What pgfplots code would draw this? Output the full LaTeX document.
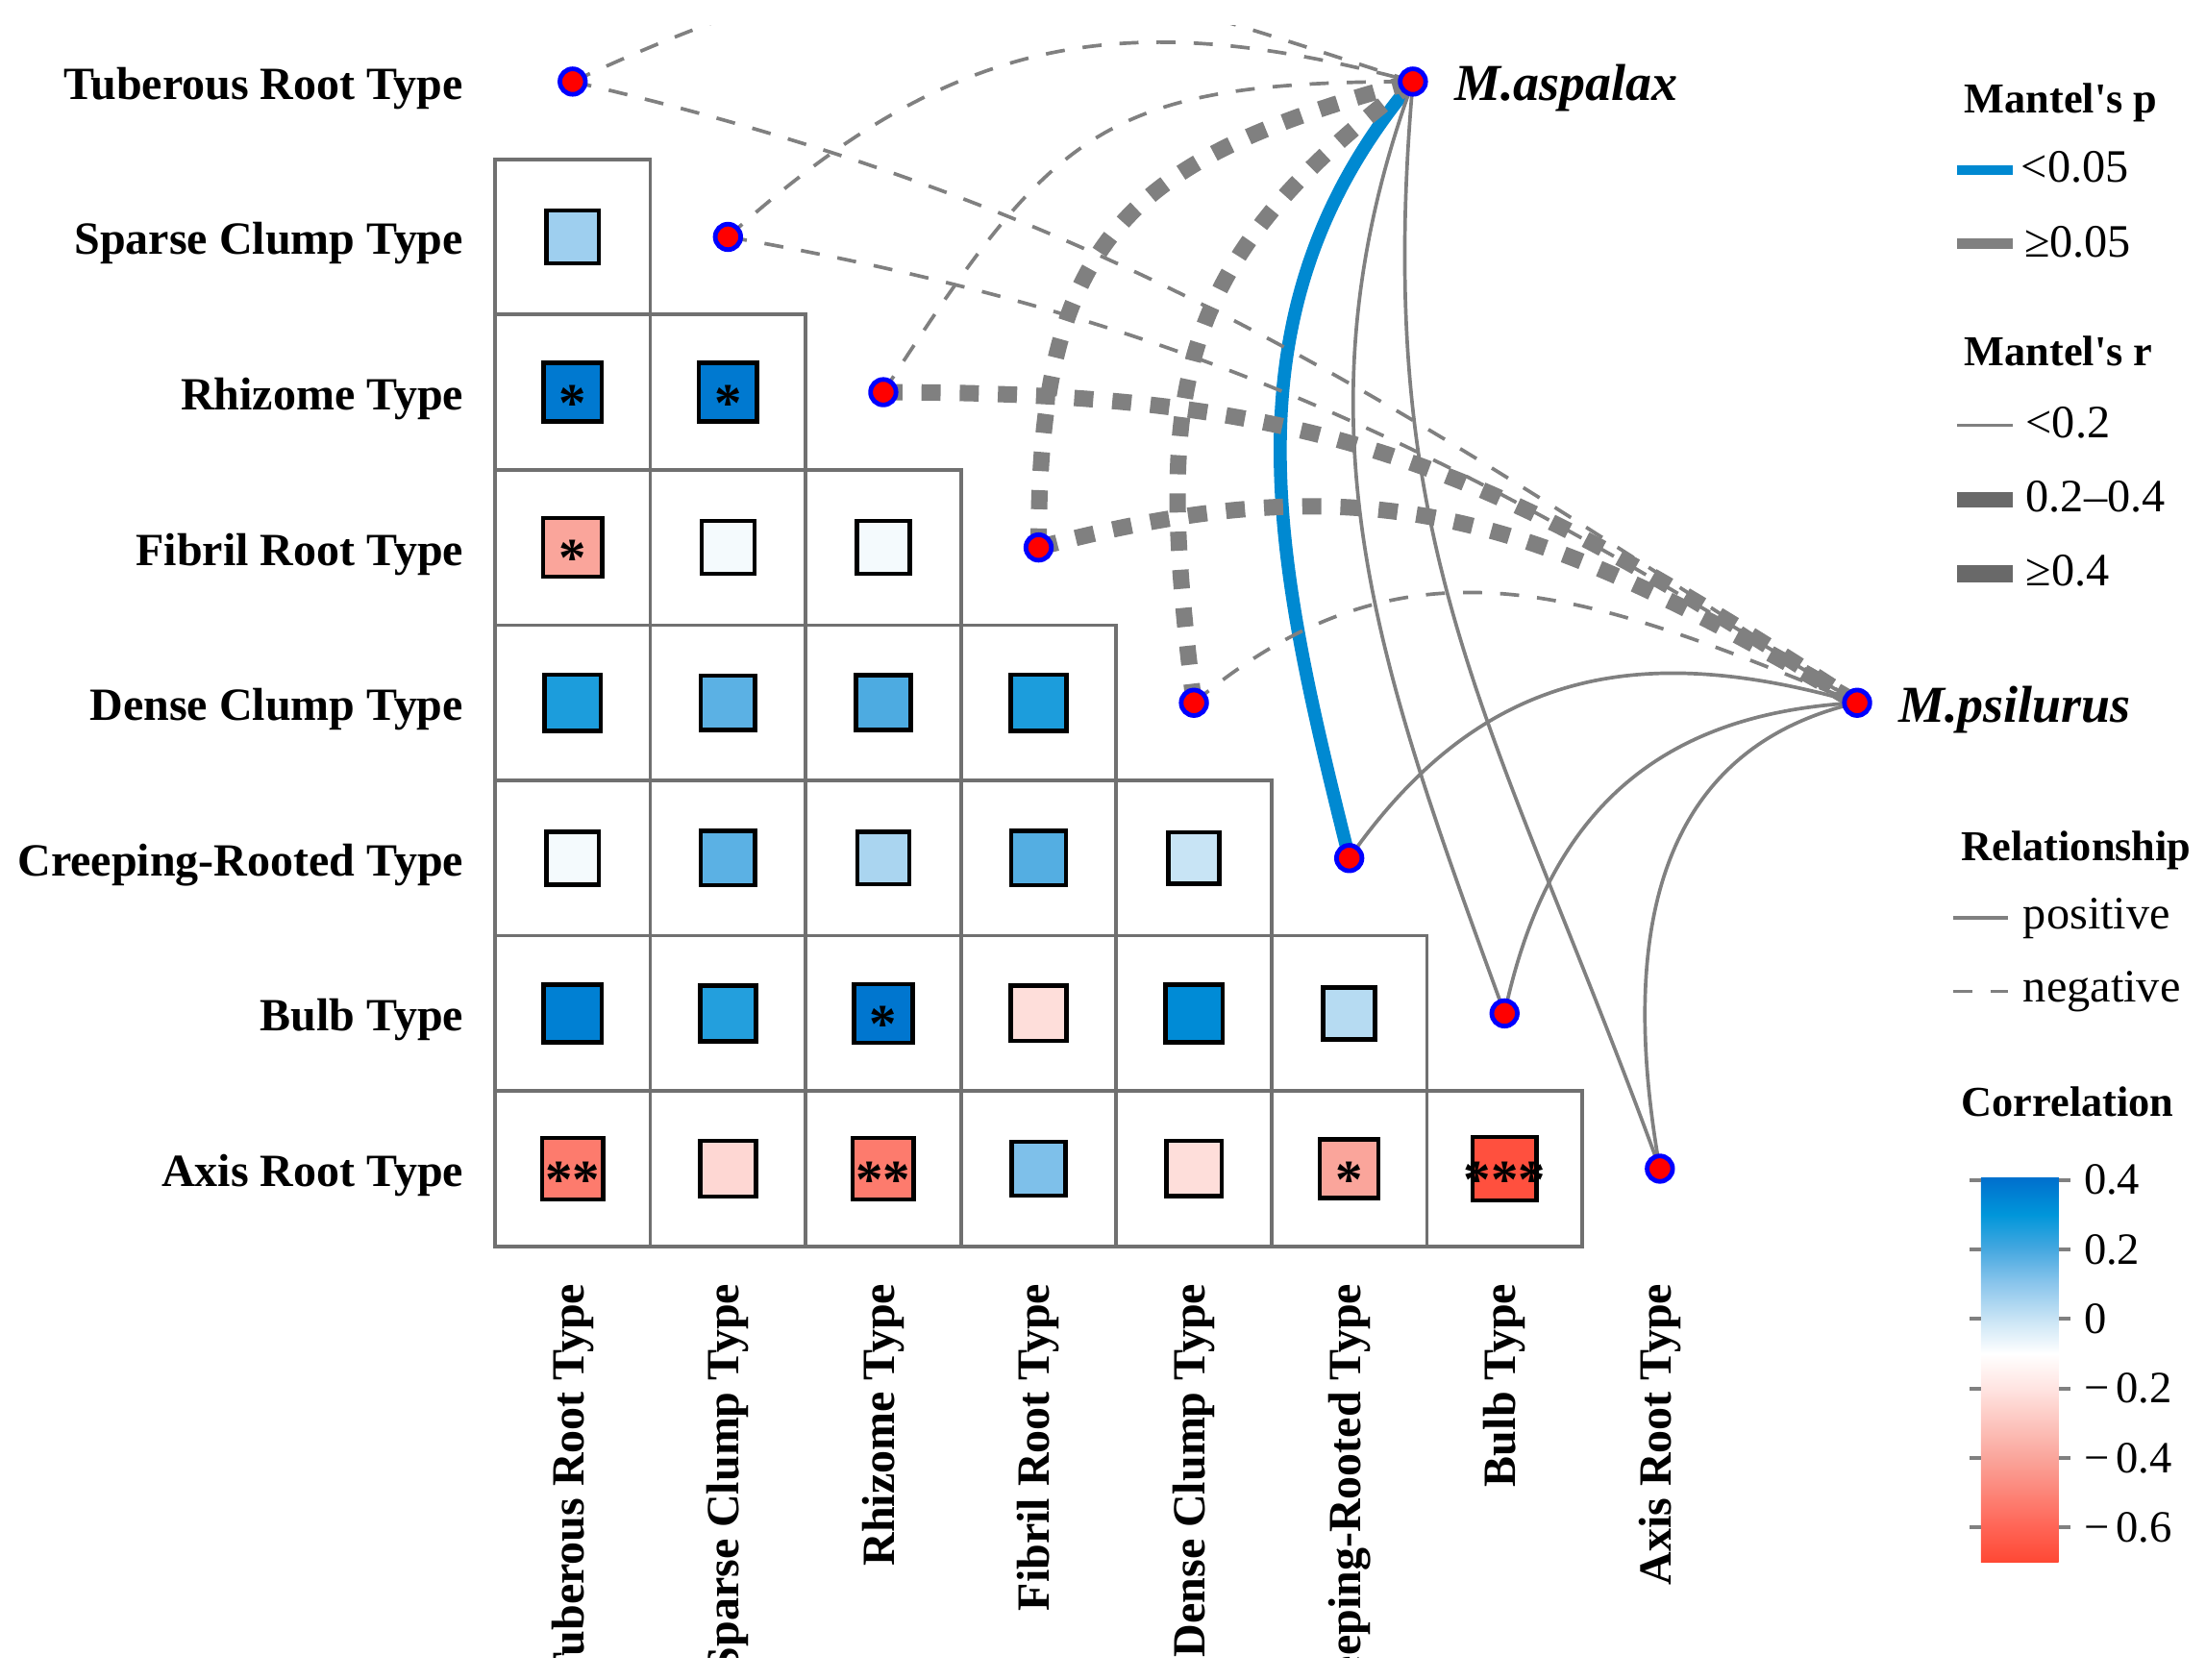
\documentclass[border=0pt]{standalone}
\usepackage{fontspec}
\setmainfont{Liberation Serif}
\usepackage{pgfplots}
\usepackage{pgfplotstable}
\pgfplotsset{compat=1.18}

\definecolor{linkgray}{RGB}{128,128,128}
\definecolor{keygray}{RGB}{105,105,105}
\definecolor{gridgray}{RGB}{112,112,112}
\definecolor{sigblue}{RGB}{0,137,209}

% correlation colours: positions are (r+0.70)*10 cm
\pgfplotsset{colormap={corr}{rgb255(0cm)=(255,72,52); rgb255(1cm)=(255,100,85);
  rgb255(3cm)=(250,165,155); rgb255(5cm)=(255,228,225); rgb255(6cm)=(255,255,255);
  rgb255(7cm)=(200,228,245); rgb255(8cm)=(140,198,236); rgb255(9cm)=(70,168,224);
  rgb255(10cm)=(0,150,218); rgb255(11cm)=(0,114,206); rgb255(11.1cm)=(0,114,206)}}

\newcommand{\labfont}{\fontsize{8.45}{9}\selectfont\bfseries}
\newcommand{\spfont}{\fontsize{9.5}{10}\selectfont\bfseries\itshape}
\newcommand{\ttlfont}{\fontsize{7.8}{9}\selectfont\bfseries}
\newcommand{\keyfont}{\fontsize{8.5}{9}\selectfont}
\newcommand{\cbfont}{\fontsize{8.2}{9}\selectfont}
\newcommand{\starfont}{\fontsize{10}{10}\selectfont\bfseries}

% lower triangle: column x, row y (7 = Tuberous ... 0 = Axis), correlation r
\pgfplotstableread{
x y r
0 6 0.07
0 5 0.38
1 5 0.38
0 4 -0.40
1 4 -0.08
2 4 -0.08
0 3 0.26
1 3 0.17
2 3 0.19
3 3 0.26
0 2 -0.08
1 2 0.17
2 2 0.05
3 2 0.18
4 2 0.00
0 1 0.36
1 1 0.25
2 1 0.39
3 1 -0.22
4 1 0.33
5 1 0.03
0 0 -0.53
1 0 -0.24
2 0 -0.53
3 0 0.12
4 0 -0.22
5 0 -0.40
6 0 -0.67
}\corr

\pgfplotstableread{
x y sig
0 5 *
1 5 *
0 4 *
2 1 *
0 0 **
2 0 **
5 0 *
6 0 ***
}\stars

% trait nodes on the diagonal, then M.aspalax and M.psilurus
\pgfplotstableread{
x y
0 7
1 6
2 5
3 4
4 3
5 2
6 1
7 0
5.41 7
8.27 3
}\nodes

\tikzset{
  lk/.style={linkgray, line width=0.65pt},
  lkd/.style={lk, dash pattern=on 3.5pt off 3.3pt},
  lkt/.style={linkgray, line width=3pt, dash pattern=on 3.5pt off 3.5pt},
  lkb/.style={sigblue, line width=2.4pt},
}
% \lk{style}{from}{out}{in}{to}{looseness}
\newcommand{\lk}[6]{\draw[#1] (axis cs:#2) to[out=#3,in=#4,looseness=#6] (axis cs:#5);}

\begin{document}
\begin{tikzpicture}
\begin{scope}
\clip (-3.187,-2.649) rectangle (11.016,7.86);
\begin{axis}[
  scale only axis, width=8cm, height=8cm,
  xmin=-0.5, xmax=7.5, ymin=-0.5, ymax=7.5,
  clip=false,
  axis line style={draw=none}, tick style={draw=none},
  xtick={0,...,7}, ytick={0,...,7},
  xticklabels={Tuberous Root Type, Sparse Clump Type, Rhizome Type, Fibril Root Type,
    Dense Clump Type, Creeping-Rooted Type, Bulb Type, Axis Root Type},
  yticklabels={Axis Root Type, Bulb Type, Creeping-Rooted Type, Dense Clump Type,
    Fibril Root Type, Rhizome Type, Sparse Clump Type, Tuberous Root Type},
  ticklabel style={font=\labfont, inner sep=0pt},
  xticklabel style={yshift=-0.235cm, rotate=90, anchor=east},
  yticklabel style={xshift=-0.197cm, yshift=-0.114cm, anchor=base east},
  colormap name=corr, point meta min=-0.70, point meta max=0.41,
  colorbar,
  colorbar style={
    at={(parent axis.south west)}, anchor=south west,
    xshift=9.267cm, yshift=-2.034cm,
    width=0.503cm, height=2.484cm,
    axis line style={draw=none},
    ytick={-0.6,-0.4,-0.2,0,0.2,0.4},
    yticklabels={−\kern.15em0.6, −\kern.15em0.4, −\kern.15em0.2, 0, 0.2, 0.4},
    tick align=outside, major tick length=0.073cm,
    ytick style={draw=linkgray, line width=0.7pt},
    yticklabel style={font=\cbfont, inner sep=0pt, xshift=0.08cm},
  },
]
% grid of the lower triangle
\addplot[only marks, mark=square, mark size=0.5cm,
  mark options={draw=gridgray, line width=0.65pt}] table[x=x, y=y] {\corr};
% coloured squares
\addplot[scatter, only marks, mark=square*, point meta=explicit,
  scatter/use mapped color={draw=black, fill=mapped color},
  mark options={line width=0.8pt},
  visualization depends on={abs(\thisrow{r}) \as \absr},
  scatter/@pre marker code/.append style={/tikz/mark size=0.165cm+0.06cm*\absr}]
  table[x=x, y=y, meta=r] {\corr};
% significance stars
\addplot[only marks, mark=none, point meta=explicit symbolic,
  nodes near coords, nodes near coords align={center},
  every node near coord/.append style={font=\starfont, inner sep=0pt, yshift=-2pt}]
  table[x=x, y=y, meta=sig] {\stars};
% nodes
\addplot[only marks, mark=*, mark size=0.082cm,
  mark options={fill=red, draw=blue, line width=0.85pt}] table[x=x, y=y] {\nodes};

% Mantel links
\lk{lkb}{5,2}{104}{230}{5.41,7}{1}
\lk{lkt}{3,4}{90}{195}{5.41,7}{1.3}
\lk{lkt}{4,3}{97}{217}{5.41,7}{1.2}
\lk{lkt}{2,5}{0}{147}{8.27,3}{1.1}
\lk{lkt}{3,4}{15}{150}{8.27,3}{1.1}
\lk{lkd}{0,7}{25}{162}{5.41,7}{1.2}
\lk{lkd}{1,6}{42}{165}{5.41,7}{1.1}
\lk{lkd}{2,5}{57}{180}{5.41,7}{1.3}
\lk{lkd}{0,7}{-13}{147}{8.27,3}{1}
\lk{lkd}{1,6}{-10}{148}{8.27,3}{1}
\lk{lkd}{4,3}{40}{158}{8.27,3}{1.1}
\lk{lk}{6,1}{110}{250}{5.41,7}{1}
\lk{lk}{7,0}{110}{265}{5.41,7}{1.1}
\lk{lk}{5,2}{55}{164}{8.27,3}{1.1}
\lk{lk}{6,1}{78}{183}{8.27,3}{1.1}
\lk{lk}{7,0}{100}{193}{8.27,3}{1.1}

\node[anchor=base west, font=\spfont, inner sep=0pt] at (axis cs:5.67,6.876) {M.aspalax};
\node[anchor=base west, font=\spfont, inner sep=0pt] at (axis cs:8.53,2.876) {M.psilurus};

% legends
\node[anchor=base west, font=\ttlfont, inner sep=0pt] at (axis cs:8.955,6.80) {Mantel\textquotesingle s p};
\draw[sigblue, line width=1.8pt] (axis cs:8.913,6.43) -- (axis cs:9.275,6.43);
\node[anchor=base west, font=\keyfont, inner sep=0pt] at (axis cs:9.32,6.35) {<0.05};
\draw[linkgray, line width=2pt] (axis cs:8.913,5.955) -- (axis cs:9.275,5.955);
\node[anchor=base west, font=\keyfont, inner sep=0pt] at (axis cs:9.34,5.87) {≥0.05};

\node[anchor=base west, font=\ttlfont, inner sep=0pt] at (axis cs:8.955,5.17) {Mantel\textquotesingle s r};
\draw[linkgray, line width=0.6pt] (axis cs:8.913,4.788) -- (axis cs:9.275,4.788);
\node[anchor=base west, font=\keyfont, inner sep=0pt] at (axis cs:9.35,4.705) {<0.2};
\draw[keygray, line width=2.7pt] (axis cs:8.913,4.307) -- (axis cs:9.275,4.307);
\node[anchor=base west, font=\keyfont, inner sep=0pt] at (axis cs:9.35,4.228) {0.2--0.4};
\draw[keygray, line width=3.3pt] (axis cs:8.913,3.83) -- (axis cs:9.275,3.83);
\node[anchor=base west, font=\keyfont, inner sep=0pt] at (axis cs:9.35,3.753) {≥0.4};

\node[anchor=base west, font=\ttlfont, inner sep=0pt] at (axis cs:8.936,1.985) {Relationship};
\draw[lk] (axis cs:8.889,1.613) -- (axis cs:9.243,1.613);
\node[anchor=base west, font=\keyfont, inner sep=0pt] at (axis cs:9.333,1.546) {positive};
\draw[lkd] (axis cs:8.889,1.141) -- (axis cs:9.243,1.141);
\node[anchor=base west, font=\keyfont, inner sep=0pt] at (axis cs:9.333,1.073) {negative};

\node[anchor=base west, font=\ttlfont, inner sep=0pt] at (axis cs:8.936,0.339) {Correlation};
\end{axis}
\end{scope}
\pgfresetboundingbox
\path[use as bounding box] (-3.187,-2.79) rectangle (11.016,8.025);
\end{tikzpicture}
\end{document}
